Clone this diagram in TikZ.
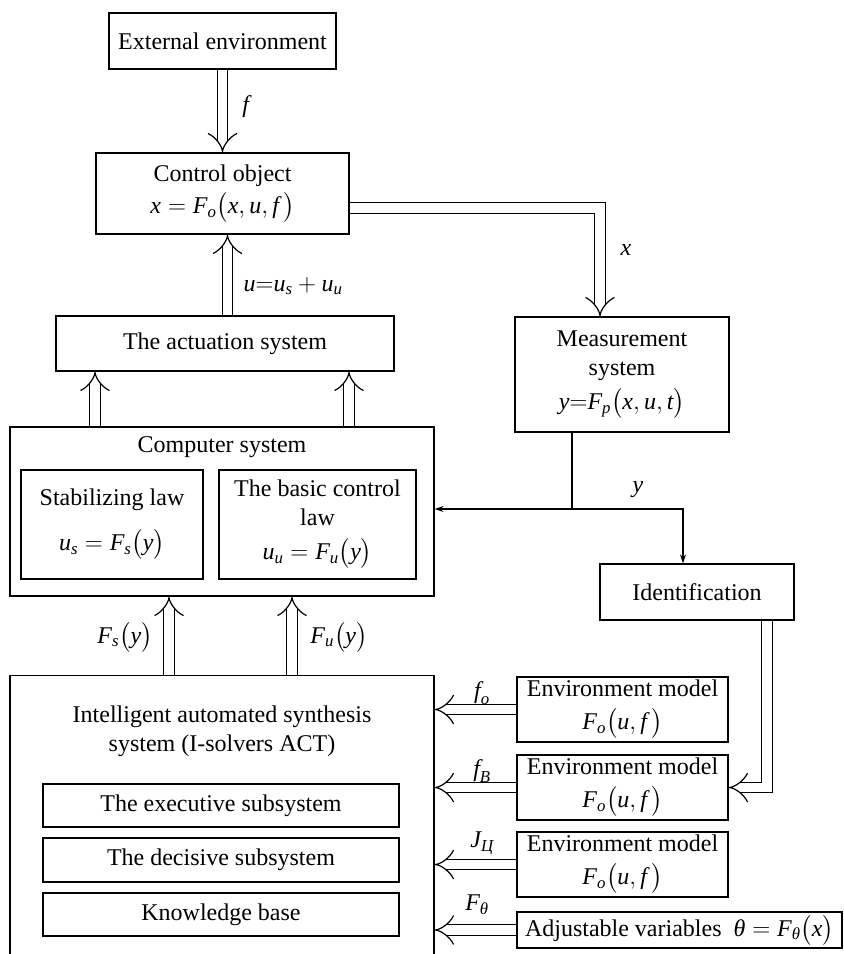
\documentclass[tikz,border=0pt]{standalone}
\usepackage{amsmath}
\usepackage{fontspec}
\IfFontExistsTF{LiberationSerif-Regular.ttf}
  {\setmainfont{LiberationSerif}[Extension=.ttf, UprightFont=*-Regular,
     ItalicFont=*-Italic, BoldFont=*-Bold, BoldItalicFont=*-BoldItalic]}
  {\setmainfont{Liberation Serif}}
\usetikzlibrary{arrows.meta}
\newcommand\bigtxt{\fontsize{24}{29}\selectfont}
\newcommand\iv[1]{\textit{#1}}
\begin{document}
\begin{tikzpicture}[x=1pt,y=-1pt,
  lw/.style={line width=1.2pt},
  box/.style={draw, lw, inner sep=0pt, align=center, font=\bigtxt},
  dbl/.style={lw, double, double distance=9.5pt, -{Implies}},
  sgl/.style={lw, -{Stealth[length=9pt,width=6pt]}},
  lbl/.style={inner sep=0pt, font=\bigtxt, align=center}]
\useasboundingbox (0,0) rectangle (844,954);
\fill[white] (0,0) rectangle (844,954);
\clip (0,0) rectangle (844,954);

% upper chain
\node[box, minimum width=227pt, minimum height=56pt] (ext) at (222.5,41) {External environment};
\node[box, minimum width=253pt, minimum height=81pt] (ctrl) at (222.5,193.5)
  {Control object\\[3pt] $\iv{x} = \iv{F}_{\iv{o}}\bigl(\iv{x}, \iv{u}, \iv{f}\,\bigr)$};
\node[box, minimum width=338pt, minimum height=55pt] (act) at (225,343.5) {The actuation system};
\node[box, minimum width=214pt, minimum height=115pt] (meas) at (622,374.5)
  {Measurement\\system\\[5pt] $\iv{y}{=}\iv{F}_{\iv{p}}\bigl(\iv{x},\iv{u},\iv{t}\bigr)$};

% computer system
\node[box, minimum width=424pt, minimum height=169pt] (comp) at (222,511.5) {};
\node[lbl] (comptitle) at (222,447) {Computer system};
\node[box, minimum width=182pt, minimum height=109pt] (stab) at (112,524.5)
  {Stabilizing law\\[16pt] $\iv{u}_{\iv{s}} = \iv{F}_{\iv{s}}\bigl(\iv{y}\bigr)$};
\node[box, minimum width=197pt, minimum height=109pt] (basic) at (317.5,524.5)
  {The basic control\\law\\[5pt] $\iv{u}_{\iv{u}} = \iv{F}_{\iv{u}}\bigl(\iv{y}\bigr)$};

\node[box, minimum width=194pt, minimum height=56pt] (ident) at (697,592) {Identification};

% intelligent synthesis system
\node[box, minimum width=424pt, minimum height=320pt, anchor=north] (iss) at (222,675) {};
\node[lbl] (isstitle) at (222,731) {Intelligent automated synthesis\\system (I-solvers ACT)};
\node[box, minimum width=356pt, minimum height=43pt] (exec) at (221,805.5) {The executive subsystem};
\node[box, minimum width=356pt, minimum height=44pt] (decis) at (221,860) {The decisive subsystem};
\node[box, minimum width=356pt, minimum height=43pt] (know) at (221,914.5) {Knowledge base};

% models
\node[box, minimum width=211pt, minimum height=65pt] (env1) at (622.5,709.5)
  {Environment model\\[4pt] $\iv{F}_{\iv{o}}\bigl(\iv{u}, \iv{f}\,\bigr)$};
\node[box, minimum width=211pt, minimum height=65pt] (env2) at (622.5,787.5)
  {Environment model\\[4pt] $\iv{F}_{\iv{o}}\bigl(\iv{u}, \iv{f}\,\bigr)$};
\node[box, minimum width=211pt, minimum height=65pt] (env3) at (622.5,864.5)
  {Environment model\\[4pt] $\iv{F}_{\iv{o}}\bigl(\iv{u}, \iv{f}\,\bigr)$};
\node[box, minimum width=325pt, minimum height=36pt] (adj) at (679.5,930)
  {Adjustable variables\ \ $\iv{θ} = \iv{F}_{\iv{θ}}\bigl(\iv{x}\bigr)$};

% double arrows
\draw[dbl] (ext.south) -- (ctrl.north);
\draw[dbl] ([xshift=2.5pt]act.north) -- ([xshift=2.5pt]act.north |- ctrl.south);
\draw[dbl] ([yshift=-14.5pt]ctrl.east) -| ([xshift=-22pt]meas.north);
\draw[dbl] ([xshift=-127pt]comp.north) -- ([xshift=-127pt]comp.north |- act.south);
\draw[dbl] ([xshift=127pt]comp.north) -- ([xshift=127pt]comp.north |- act.south);
\draw[dbl] ([xshift=-53pt]iss.north) -- ([xshift=-53pt]iss.north |- comp.south);
\draw[dbl] ([xshift=70pt]iss.north) -- ([xshift=70pt]iss.north |- comp.south);
\draw[dbl] (env1.west) -- (env1.west -| iss.east);
\draw[dbl] (env2.west) -- (env2.west -| iss.east);
\draw[dbl] (env3.west) -- (env3.west -| iss.east);
\draw[dbl] (adj.west) -- (adj.west -| iss.east);
\draw[dbl] ([xshift=70pt]ident.south) |- (env2.east);

% measured output
\coordinate (yj) at (572,509);
\draw[lw] ([xshift=-50pt]meas.south) -- (yj);
\draw[sgl] (yj) -- (yj -| comp.east);
\draw[sgl] (yj) -| ([xshift=-14pt]ident.north);

% signal labels
\node[lbl] (lf) at (247,107) {\iv{f}};
\node[lbl] (lx) at (626,250) {\iv{x}};
\node[lbl] (lu) at (293,286) {$\iv{u}{=}\iv{u}_{\iv{s}}+\iv{u}_{\iv{u}}$};
\node[lbl] (ly) at (638,490) {\iv{y}};
\node[lbl] (lfs) at (125,637) {$\iv{F}_{\iv{s}}\bigl(\iv{y}\bigr)$};
\node[lbl] (lfu) at (339,637) {$\iv{F}_{\iv{u}}\bigl(\iv{y}\bigr)$};
\node[lbl] (lfo) at (482,693) {$\iv{f}_{\iv{o}}$};
\node[lbl] (lfb) at (482,771) {$\iv{f}_{\iv{B}}$};
\node[lbl] (lj) at (482,843) {$\iv{J}_{\iv{Ц}}$};
\node[lbl] (lft) at (477,905) {$\iv{F}_{\iv{θ}}$};
\end{tikzpicture}
\end{document}
